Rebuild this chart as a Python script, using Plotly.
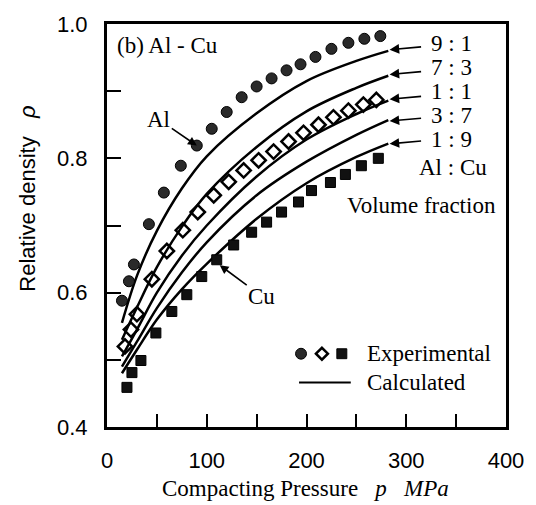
import plotly.graph_objects as go

# ---------------- data ----------------
al_p = [15, 22, 27, 42, 57, 74, 90, 105, 120, 135, 150, 165, 180, 194, 209, 225, 242, 258, 274]
al_rho = [0.588, 0.617, 0.642, 0.702, 0.749, 0.789, 0.819, 0.844, 0.869, 0.891, 0.907,
          0.919, 0.931, 0.940, 0.951, 0.963, 0.972, 0.978, 0.982]

mix_p = [18, 24, 30, 45, 60, 76, 91, 107, 122, 137, 152, 167, 182, 197, 212, 227, 242, 257, 270]
mix_rho = [0.520, 0.545, 0.568, 0.620, 0.662, 0.693, 0.720, 0.745, 0.765, 0.782, 0.797,
           0.810, 0.825, 0.838, 0.850, 0.861, 0.871, 0.880, 0.887]

cu_p = [20, 25, 34, 49, 65, 80, 95, 110, 127, 145, 160, 175, 192, 205, 224, 239, 255, 272]
cu_rho = [0.459, 0.481, 0.499, 0.540, 0.572, 0.597, 0.624, 0.649, 0.671, 0.690, 0.705,
          0.720, 0.735, 0.752, 0.764, 0.776, 0.789, 0.800]

calc_p = [15, 30, 50, 75, 100, 150, 200, 250, 282]
calc_91 = [0.555, 0.625, 0.692, 0.755, 0.803, 0.867, 0.915, 0.945, 0.960]
calc_73 = [0.530, 0.578, 0.638, 0.698, 0.747, 0.817, 0.870, 0.905, 0.923]
calc_11 = [0.505, 0.545, 0.600, 0.655, 0.700, 0.773, 0.828, 0.866, 0.886]
calc_37 = [0.490, 0.527, 0.577, 0.630, 0.675, 0.745, 0.795, 0.835, 0.857]
calc_19 = [0.480, 0.515, 0.560, 0.605, 0.643, 0.710, 0.763, 0.802, 0.822]

ratio_labels = ["9 : 1", "7 : 3", "1 : 1", "3 : 7", "1 : 9"]
x_ticks = [0, 100, 200, 300, 400]
y_ticks = [0.4, 0.6, 0.8, 1.0]

SERIF = "Liberation Serif, Times New Roman, serif"
SANS = "Liberation Sans, Arial, sans-serif"

fig = go.Figure()

for ys in [calc_91, calc_73, calc_11, calc_37, calc_19]:
    fig.add_trace(go.Scatter(x=calc_p, y=ys, mode="lines", line=dict(color="black", width=2.5, shape="spline"),
                             showlegend=False, hoverinfo="skip"))

fig.add_trace(go.Scatter(x=al_p, y=al_rho, mode="markers",
                         marker=dict(symbol="circle", size=11, color="#2a2a2a", line=dict(color="black", width=1)),
                         showlegend=False))
fig.add_trace(go.Scatter(x=mix_p, y=mix_rho, mode="markers",
                         marker=dict(symbol="diamond-open", size=11, color="black", line=dict(color="black", width=2.5)),
                         showlegend=False))
fig.add_trace(go.Scatter(x=cu_p, y=cu_rho, mode="markers",
                         marker=dict(symbol="square", size=10, color="#111111", line=dict(color="black", width=1)),
                         showlegend=False))

L, R, T, B = 107, 28, 20, 78
W, H = 536, 505
pw, ph = W - L - R, H - T - B

def px(xpix):
    return (xpix - L) / pw

def py(ypix):
    return (H - B - ypix) / ph

ann = []
ann.append(dict(x=px(115), y=py(42), xref="paper", yref="paper", text="(b) Al - Cu", showarrow=False,
                xanchor="left", yanchor="middle", font=dict(family=SERIF, size=23, color="black")))
label_y = [40, 64, 88, 112, 137]
arrow_y = [46, 71, 96, 118, 141]
for lab, ly, ay in zip(ratio_labels, label_y, arrow_y):
    ann.append(dict(x=px(453), y=py(ly), xref="paper", yref="paper", text=lab, showarrow=False,
                    xanchor="center", yanchor="middle", font=dict(family=SERIF, size=23, color="black")))
    ann.append(dict(x=px(391), y=py(ay), xref="paper", yref="paper", text="", showarrow=True,
                    ax=33, ay=-3, arrowhead=2, arrowsize=1.2, arrowwidth=1.6, arrowcolor="black"))
ann.append(dict(x=px(455), y=py(165), xref="paper", yref="paper", text="Al : Cu", showarrow=False,
                xanchor="center", yanchor="middle", font=dict(family=SERIF, size=23, color="black")))
ann.append(dict(x=px(423), y=py(203), xref="paper", yref="paper", text="Volume fraction", showarrow=False,
                xanchor="center", yanchor="middle", font=dict(family=SERIF, size=23, color="black")))
# Al / Cu pointers
ann.append(dict(x=al_p[6], y=al_rho[6], xref="x", yref="y", text="Al", showarrow=True,
                ax=-38, ay=-26, arrowhead=2, arrowsize=1.1, arrowwidth=1.6, arrowcolor="black",
                font=dict(family=SERIF, size=23, color="black")))
ann.append(dict(x=cu_p[7] + 3, y=cu_rho[7] - 0.008, xref="x", yref="y", text="Cu", showarrow=True,
                ax=42, ay=31, arrowhead=2, arrowsize=1.1, arrowwidth=1.6, arrowcolor="black",
                font=dict(family=SERIF, size=23, color="black")))
# legend texts
ann.append(dict(x=px(366), y=py(353), xref="paper", yref="paper", text="Experimental", showarrow=False,
                xanchor="left", yanchor="middle", font=dict(family=SERIF, size=23, color="black")))
ann.append(dict(x=px(366), y=py(382), xref="paper", yref="paper", text="Calculated", showarrow=False,
                xanchor="left", yanchor="middle", font=dict(family=SERIF, size=23, color="black")))
# axis titles
ann.append(dict(x=px(27), y=py(196), xref="paper", yref="paper",
                text="Relative density\u00a0\u00a0\u00a0<i>ρ</i>", showarrow=False, textangle=-90,
                xanchor="center", yanchor="middle", font=dict(family=SANS, size=22, color="black")))
ann.append(dict(x=px(306), y=py(489), xref="paper", yref="paper",
                text="Compacting Pressure\u00a0\u00a0\u00a0<i>p</i>\u00a0\u00a0\u00a0<i>MPa</i>", showarrow=False,
                xanchor="center", yanchor="middle", font=dict(family=SERIF, size=23, color="black")))

shapes = []
# legend symbols
r = 5.5
shapes.append(dict(type="circle", xref="paper", yref="paper", x0=px(302 - r), x1=px(302 + r),
                   y0=py(353 + r), y1=py(353 - r), fillcolor="#2a2a2a", line=dict(color="black", width=1)))
shapes.append(dict(type="path", xref="paper", yref="paper",
                   path=f"M {px(323-6)} {py(353)} L {px(323)} {py(347)} L {px(323+6)} {py(353)} L {px(323)} {py(359)} Z",
                   line=dict(color="black", width=2.5)))
shapes.append(dict(type="rect", xref="paper", yref="paper", x0=px(338), x1=px(348),
                   y0=py(358), y1=py(348), fillcolor="#111111", line=dict(color="black", width=1)))
shapes.append(dict(type="line", xref="paper", yref="paper", x0=px(300), x1=px(352),
                   y0=py(382), y1=py(382), line=dict(color="black", width=2)))

fig.update_layout(
    width=W, height=H, margin=dict(l=L, r=R, t=T, b=B),
    paper_bgcolor="white", plot_bgcolor="white",
    annotations=ann, shapes=shapes, showlegend=False,
)
fig.update_xaxes(range=[0, 400], tickvals=x_ticks, ticktext=[str(v) for v in x_ticks],
                 ticks="inside", ticklen=13, tickwidth=2, tickcolor="black",
                 minor=dict(dtick=50, ticks="inside", ticklen=13, tickwidth=2, tickcolor="black"),
                 showline=True, linewidth=3, linecolor="black", mirror=True, showgrid=False, zeroline=False,
                 ticklabelstandoff=12, tickfont=dict(family=SANS, size=22, color="black"))
fig.update_yaxes(range=[0.4, 1.0], tickvals=y_ticks, ticktext=[f"{v:.1f}" for v in y_ticks],
                 ticks="inside", ticklen=14, tickwidth=2, tickcolor="black",
                 minor=dict(dtick=0.1, ticks="inside", ticklen=14, tickwidth=2, tickcolor="black"),
                 showline=True, linewidth=3, linecolor="black", mirror=True, showgrid=False, zeroline=False,
                 ticklabelstandoff=12, tickfont=dict(family=SANS, size=22, color="black"))

fig.write_html("out.html")
